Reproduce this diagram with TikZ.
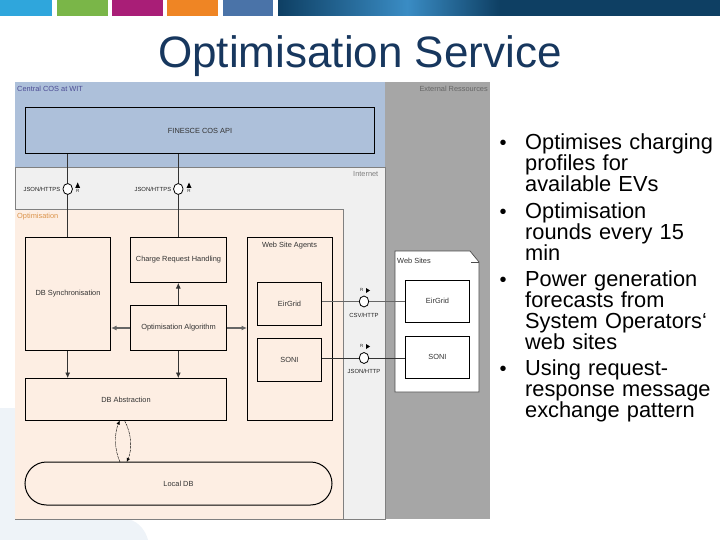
\documentclass[tikz,border=0pt]{standalone}
\usepackage{fontspec}
\setmainfont{Liberation Sans}
\usetikzlibrary{arrows.meta,shapes.misc,shapes.geometric}
\definecolor{titleblue}{HTML}{17375E}
\definecolor{panelblue}{HTML}{ADC0DA}
\definecolor{panelgray}{HTML}{A6A6A6}
\definecolor{panelinet}{HTML}{F0F0F0}
\definecolor{panelopt}{HTML}{FDEEE3}
\definecolor{edgegray}{HTML}{808080}
\definecolor{wash}{HTML}{EEF3F8}
\definecolor{navy}{HTML}{0E3F63}
\definecolor{midblue}{HTML}{3A8CC4}
\tikzset{x=1pt,y=-1pt,
 panel/.style={draw=edgegray,line width=.6pt,inner sep=0},
 box/.style={draw=black,line width=1pt,fill=panelopt,inner sep=0,anchor=north west,align=center,font=\fontsize{7.4}{8}\selectfont,text=black!80},
 wbox/.style={box,fill=white},
 blbl/.style={font=\fontsize{7.4}{8}\selectfont,inner sep=0,text=black!80},
 plbl/.style={font=\fontsize{5.9}{7}\selectfont,inner sep=0,text=black!85},
 rlbl/.style={font=\fontsize{4.5}{5}\selectfont,inner sep=0,text=black!85},
 wire/.style={draw=black!80,line width=.7pt},
 thick wire/.style={draw=black!60,line width=1.4pt},
 tip/.style={-{Latex[length=5.5pt,width=5pt]}},
 dashtip/.style={black,line width=.4pt,dash pattern=on 3pt off .8pt,-{Latex[length=4pt,width=3.5pt]}},
 port/.style={ellipse,draw=black,line width=.8pt,fill=white,minimum width=9.5pt,minimum height=11pt,inner sep=0},
 bar/.style={anchor=north west,inner sep=0,minimum height=16pt},
 bullet/.style={anchor=north west,inner sep=0,font=\fontsize{21.8}{20.8}\selectfont,text=black,align=left,text width=195pt},
 dot/.style={inner sep=0,font=\fontsize{20}{20}\selectfont}
}
\begin{document}
\begin{tikzpicture}
\useasboundingbox (0,0) rectangle (720,540);
% background wash
\fill[wash] (0,408) -- (15,408) -- (15,519) -- (128,519) .. controls (140,522) and (146,532) .. (148,540) -- (0,540) -- cycle;
% top bars
\node[bar,fill={rgb,255:red,47;green,166;blue,220},minimum width=52pt] (b1) at (0,0) {};
\node[bar,fill={rgb,255:red,122;green,182;blue,72},minimum width=51pt] (b2) at (57,0) {};
\node[bar,fill={rgb,255:red,169;green,30;blue,119},minimum width=51pt] (b3) at (112,0) {};
\node[bar,fill={rgb,255:red,239;green,133;blue,36},minimum width=51pt] (b4) at (167,0) {};
\node[bar,fill={rgb,255:red,74;green,115;blue,168},minimum width=50pt] (b5) at (223,0) {};
\shade[left color=navy,right color=midblue] (278,0) rectangle (407,16);
\shade[left color=midblue,right color=navy] (407,0) rectangle (500,16);
\fill[navy] (500,0) rectangle (720,16);
\node[anchor=base,inner sep=0,font=\fontsize{44}{46}\selectfont,text=titleblue] (title) at (360,68) {Optimisation Service};
% panels
\fill[panelgray] (385,82) rectangle (490,519);
\fill[panelblue] (15,82) rectangle (385,167);
\draw[panel,fill=panelinet] (15,167) rectangle (385,519);
\fill[panelopt] (15,209) rectangle (343,519);
\draw[edgegray,line width=.4pt] (15,209) -- (343,209) -- (343,519);
\node[blbl,anchor=north west,text=blue!40!black!70] (lc) at (17,86) {Central COS at WIT};
\node[blbl,anchor=north east,text=black!60] (le) at (488,86) {External Ressources};
\node[blbl,anchor=north east,text=black!50] (li) at (378.5,171) {Internet};
\node[blbl,anchor=north west,text=orange!80!black!70] (lo) at (17,213) {Optimisation};
% boxes
\node[box,fill=panelblue,minimum width=349pt,minimum height=46pt] (api) at (25,107) {FINESCE COS API};
\node[box,minimum width=85pt,minimum height=113pt] (sync) at (25,237) {DB Synchronisation};
\node[box,minimum width=96pt,minimum height=45pt] (charge) at (130,237) {Charge Request Handling};
\node[box,minimum width=96pt,minimum height=45pt] (algo) at (130,305) {Optimisation Algorithm};
\node[box,minimum width=201pt,minimum height=42pt] (abs) at (25,378) {DB Abstraction};
\node[box,rounded rectangle,anchor=center,minimum width=307pt,minimum height=43pt] (ldb) at (178.5,483.5) {Local DB};
\node[box,minimum width=85pt,minimum height=183pt] (agents) at (247,237) {};
\node[blbl,anchor=center] (la) at (289.5,245.5) {Web Site Agents};
\node[box,minimum width=64pt,minimum height=43pt] (eir) at (257,282) {EirGrid};
\node[box,minimum width=64pt,minimum height=43pt] (son) at (257,338) {SONI};
% web sites document
\draw[black!70,line width=.7pt,fill=white] (395,251) -- (470,251) -- (479,262) -- (479,392) -- (395,392) -- cycle;
\draw[black!70,line width=.5pt] (471,262) -- (479,262);
\node[blbl,anchor=center] (lw) at (414,260.5) {Web Sites};
\node[wbox,minimum width=64pt,minimum height=42pt] (eir2) at (405,279.5) {EirGrid};
\node[wbox,minimum width=64pt,minimum height=42pt] (son2) at (405,335.5) {SONI};
% ports
\node[port] (p1) at (67.7,189) {};
\node[port] (p2) at (178.3,189) {};
\node[port] (p3) at (364,301.5) {};
\node[port] (p4) at (364,358) {};
\draw[wire] (p1|-api.south) -- (p1) -- (p1|-sync.north);
\draw[wire] (p2|-api.south) -- (p2) -- (p2|-charge.north);
\draw[wire,tip] (p2|-algo.north) -- (p2|-charge.south);
\draw[thick wire,tip] (algo.west) -- (sync.east|-algo.west);
\draw[thick wire,tip] (algo.east) -- (agents.west|-algo.east);
\draw[wire,tip] (p1|-sync.south) -- (p1|-abs.north);
\draw[wire,tip] (p2|-algo.south) -- (p2|-abs.north);
\draw[thick wire] (eir.east|-p3) -- (p3);
\draw[thick wire] (p3) -- (eir2.west|-p3);
\draw[wire] (son.east|-p4) -- (p4);
\draw[wire] (p4) -- (son2.west|-p4);
\coordinate (ll) at (120,462);
\coordinate (lu) at (119.7,420.5);
\coordinate (ru) at (124.5,420.5);
\coordinate (rl) at (126.7,462);
\draw[dashtip] (ll) .. controls (114,449) and (114.5,433) .. (lu);
\draw[dashtip] (ru) .. controls (132,434) and (132,450) .. (rl);
% port labels
\node[plbl,anchor=east] (j1) at (60.5,189) {JSON/HTTPS};
\node[plbl,anchor=east] (j2) at (171.5,189) {JSON/HTTPS};
\node[plbl,anchor=center] (j3) at (364,315) {CSV/HTTP};
\node[plbl,anchor=center] (j4) at (364,371) {JSON/HTTP};
\fill[black] (77.7,182.5) -- (80.2,188) -- (75.2,188) -- cycle;
\fill[black] (189,182.5) -- (191.5,188) -- (186.5,188) -- cycle;
\node[rlbl] (r1) at (77.7,191) {R};
\node[rlbl] (r2) at (189,191) {R};
\fill[black] (366,288) -- (366,293) -- (370,290.5) -- cycle;
\fill[black] (366,344) -- (366,349) -- (370,346.5) -- cycle;
\node[rlbl] (r3) at (361.7,290) {R};
\node[rlbl] (r4) at (361.7,346) {R};
% bullets
\node[dot] (d1) at (503,145) {•};
\node[bullet] (t1) at (525,133.5) {Optimises charging\\profiles for\\available EVs};
\node[dot] (d2) at (503,214) {•};
\node[bullet] (t2) at (525,202.5) {Optimisation\\rounds every 15\\min};
\node[dot] (d3) at (503,282) {•};
\node[bullet] (t3) at (525,271) {Power generation\\forecasts from\\System Operators‘\\web sites};
\node[dot] (d4) at (503,371) {•};
\node[bullet] (t4) at (525,360) {Using request-\\response message\\exchange pattern};
\end{tikzpicture}
\end{document}
